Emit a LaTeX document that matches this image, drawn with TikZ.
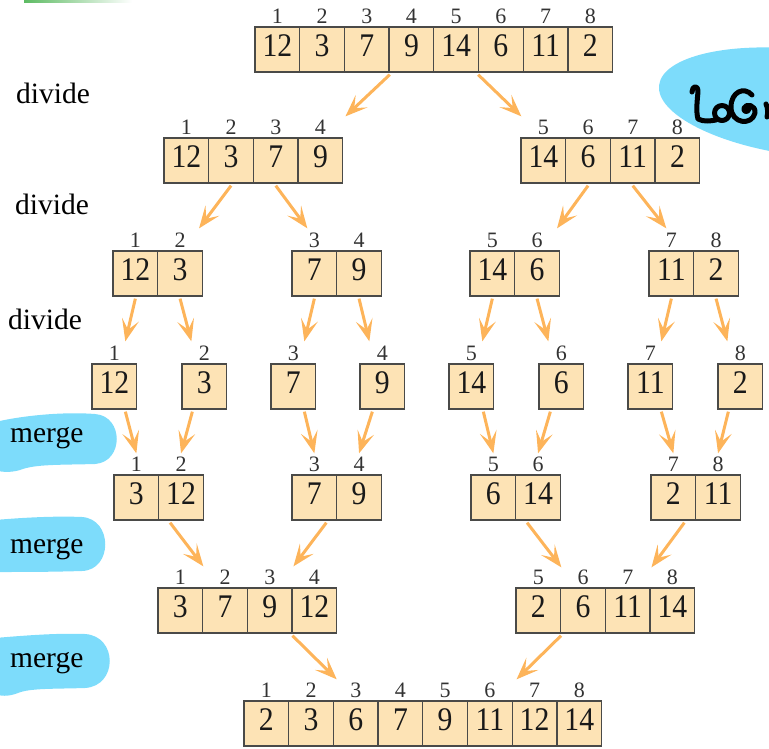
\documentclass[tikz,border=0pt]{standalone}
\usepackage{fontspec}
\setmainfont{Liberation Serif}
\newfontfamily\cellfont[FakeStretch=0.9]{Liberation Serif}
\usetikzlibrary{arrows.meta,calc}

\definecolor{cellfill}{HTML}{FDE3B5}
\definecolor{celledge}{HTML}{4A4A48}
\definecolor{flowc}{HTML}{FDB45A}
\definecolor{marker}{HTML}{7DDCFB}
\definecolor{greenmark}{HTML}{5DBB63}

\tikzset{
  cellbox/.style={draw=celledge, line width=1.3pt, fill=cellfill,
    minimum width=44.7pt, minimum height=45pt, inner sep=0pt,
    font=\cellfont\fontsize{33}{33}\selectfont, text=black!90},
  idxlabel/.style={anchor=base, inner sep=0pt,
    font=\rmfamily\fontsize{22}{22}\selectfont, text=black!80, yshift=3pt},
  steplabel/.style={anchor=base west, inner sep=0pt,
    font=\rmfamily\fontsize{29.5}{30}\selectfont},
  flow/.style={draw=flowc, line width=3pt,
    -{Stealth[length=22pt,width=17pt,inset=10pt]}},
  highlight/.style={fill=marker, blend mode=multiply},
  pen/.style={draw=black, line width=5pt, line cap=round, line join=round}
}

% one array: name, left x, top y, first index, values
\newcommand\cellrow[5]{%
  \foreach \val [count=\k from 0] in {#5} {
    \pgfmathtruncatemacro\ix{#4+\k}
    \node[cellbox] (#1-\k) at ({#2+44.7*\k+22.35},{#3+22.5})
      {\raisebox{-7.2pt}[0pt][0pt]{\val}};
    \node[idxlabel] (#1-\k-i) at (#1-\k.north) {\ix};
  }}

\begin{document}
\begin{tikzpicture}[x=1pt,y=-1pt]
\useasboundingbox (0,0) rectangle (769,748);

% green pen mark at the top edge
\shade[left color=greenmark, right color=white] (24,-4) rectangle (132,2.5);

% arrays, level by level
\cellrow{T}{255}{27}{1}{12,3,7,9,14,6,11,2}
\cellrow{A}{164}{138}{1}{12,3,7,9}
\cellrow{B}{521}{138}{5}{14,6,11,2}
\cellrow{C}{113}{251}{1}{12,3}
\cellrow{D}{292}{251}{3}{7,9}
\cellrow{E}{470}{251}{5}{14,6}
\cellrow{F}{649}{251}{7}{11,2}
\cellrow{G1}{92}{364}{1}{12}
\cellrow{G2}{182}{364}{2}{3}
\cellrow{G3}{271}{364}{3}{7}
\cellrow{G4}{360}{364}{4}{9}
\cellrow{G5}{449}{364}{5}{14}
\cellrow{G6}{539}{364}{6}{6}
\cellrow{G7}{628}{364}{7}{11}
\cellrow{G8}{718}{364}{8}{2}
\cellrow{H}{114}{475}{1}{3,12}
\cellrow{I}{292}{475}{3}{7,9}
\cellrow{J}{471}{475}{5}{6,14}
\cellrow{K}{651}{475}{7}{2,11}
\cellrow{M}{158}{588}{1}{3,7,9,12}
\cellrow{N}{516}{588}{5}{2,6,11,14}
\cellrow{R}{244}{701}{1}{2,3,6,7,9,11,12,14}

% divide arrows
\draw[flow] ($(T-2.south east)+(0,2)$) -- ($(A-3.north east)+(2,-21)$);
\draw[flow] ($(T-4.south east)+(-1,2)$) -- ($(B-0.north west)+(1,-21)$);
\draw[flow] ($(A-1.south)+(0,2)$) -- ($(C-1.north east)+(-4,-22)$);
\draw[flow] ($(A-2.south)+(0,2)$) -- ($(D-0.north west)+(16,-22)$);
\draw[flow] ($(B-1.south)+(0,2)$) -- ($(E-1.north east)+(-3,-22)$);
\draw[flow] ($(B-2.south)+(0,2)$) -- ($(F-0.north west)+(18,-22)$);
\draw[flow] ($(C-0.south)+(0,2)$) -- ($(G1-0.north)+(11,-22)$);
\draw[flow] ($(C-1.south)+(0,2)$) -- ($(G2-0.north)+(-13,-22)$);
\draw[flow] ($(D-0.south)+(0,2)$) -- ($(G3-0.north)+(11,-22)$);
\draw[flow] ($(D-1.south)+(0,2)$) -- ($(G4-0.north)+(-13,-22)$);
\draw[flow] ($(E-0.south)+(0,2)$) -- ($(G5-0.north)+(11,-22)$);
\draw[flow] ($(E-1.south)+(0,2)$) -- ($(G6-0.north)+(-13,-22)$);
\draw[flow] ($(F-0.south)+(0,2)$) -- ($(G7-0.north)+(11,-22)$);
\draw[flow] ($(F-1.south)+(0,2)$) -- ($(G8-0.north)+(-13,-22)$);

% merge arrows
\draw[flow] ($(G1-0.south)+(11,2)$) -- ($(H-0.north)+(0,-21)$);
\draw[flow] ($(G2-0.south)+(-12,2)$) -- ($(H-1.north)+(0,-21)$);
\draw[flow] ($(G3-0.south)+(11,2)$) -- ($(I-0.north)+(0,-21)$);
\draw[flow] ($(G4-0.south)+(-10,2)$) -- ($(I-1.north)+(0,-21)$);
\draw[flow] ($(G5-0.south)+(12,2)$) -- ($(J-0.north)+(0,-21)$);
\draw[flow] ($(G6-0.south)+(-11,2)$) -- ($(J-1.north)+(0,-21)$);
\draw[flow] ($(G7-0.south)+(11,2)$) -- ($(K-0.north)+(0,-21)$);
\draw[flow] ($(G8-0.south)+(-12,2)$) -- ($(K-1.north)+(0,-21)$);
\draw[flow] ($(H-1.south)+(-11,2)$) -- ($(M-0.north east)+(0,-21)$);
\draw[flow] ($(I-0.south)+(12,2)$) -- ($(M-3.north west)+(2,-21)$);
\draw[flow] ($(J-1.south)+(-11,2)$) -- ($(N-0.north east)+(0,-20)$);
\draw[flow] ($(K-0.south)+(11,2)$) -- ($(N-3.north west)+(2,-20)$);
\draw[flow] ($(M-3.south west)+(1,2)$) -- ($(R-2.north west)+(4,-21)$);
\draw[flow] ($(N-1.south west)+(1,2)$) -- ($(R-6.north west)+(5,-21)$);

% step labels
\node[steplabel] (dv1) at (16,103) {divide};
\node[steplabel] (dv2) at (15,214) {divide};
\node[steplabel] (dv3) at (8,329) {divide};
\node[steplabel] (mg1) at (10,442) {merge};
\node[steplabel] (mg2) at (10,553) {merge};
\node[steplabel] (mg3) at (10,667) {merge};

% highlighter strokes behind the merge labels
\fill[highlight] (-5,422) .. controls (30,414) and (70,412) .. (95,414)
  .. controls (124,416) and (124,462) .. (95,464)
  .. controls (60,465) and (35,464) .. (20,470)
  .. controls (10,473) and (0,472) .. (-5,470) -- cycle;
\fill[highlight] (-5,520) .. controls (30,517) and (60,516) .. (82,517)
  .. controls (113,519) and (113,570) .. (82,571)
  .. controls (50,572) and (20,572) .. (-5,572) -- cycle;
\fill[highlight] (-5,638) .. controls (30,635) and (60,633) .. (85,634)
  .. controls (118,636) and (118,686) .. (85,688)
  .. controls (55,689) and (30,688) .. (18,693)
  .. controls (8,697) and (0,696) .. (-5,694) -- cycle;

% highlighter blob with handwritten note at the right edge
\fill[highlight, rotate around={-7:(805,103)}] (805,103)
  ellipse [x radius=147, y radius=53];
\draw[pen] (692,92) .. controls (692,86) and (698,84) .. (698,92)
  .. controls (697,102) and (696,112) .. (698,119)
  .. controls (704,122) and (710,121) .. (716,120);
\draw[pen] (722,113) circle [radius=7.5];
\draw[pen] (752,95) .. controls (744,86) and (731,92) .. (731,107)
  .. controls (731,124) and (752,126) .. (755,113)
  .. controls (756,105) and (746,103) .. (744,108)
  .. controls (743,112) and (748,113) .. (749,109);
\draw[pen] (766,104) .. controls (768,108) and (768,113) .. (767,117);
\end{tikzpicture}
\end{document}
